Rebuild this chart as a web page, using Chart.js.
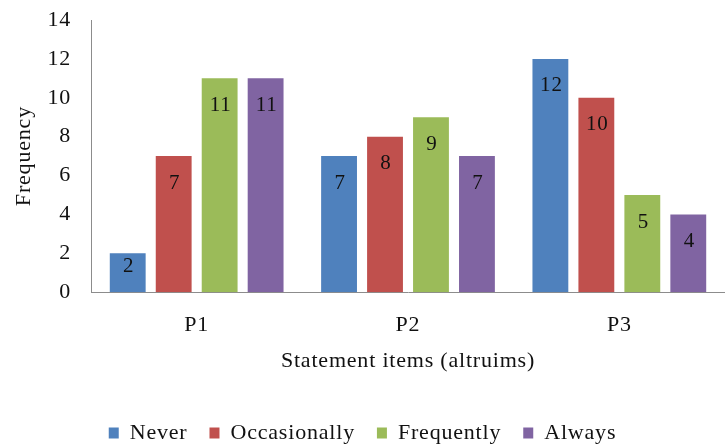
<!DOCTYPE html>
<html>
<head>
<meta charset="utf-8">
<script src="https://cdn.jsdelivr.net/npm/chart.js@4"></script>
<style>
  html, body { margin: 0; padding: 0; background: #fff; }
  #wrap { width: 725px; height: 444px; position: relative; }
</style>
</head>
<body>
<div id="wrap"><canvas id="c" width="725" height="444"></canvas></div>
<script>
// Responses per statement item (altruism)
const categories = ['P1', 'P2', 'P3'];
const seriesNames = ['Never', 'Occasionally', 'Frequently', 'Always'];
const never = [2, 7, 12];
const occasionally = [7, 8, 10];
const frequently = [11, 9, 5];
const always = [11, 7, 4];
const yTicks = [0, 2, 4, 6, 8, 10, 12, 14];

const colors = ['#4F81BD', '#C0504D', '#9BBB59', '#8064A2'];
const serif = '"Liberation Serif", "Times New Roman", serif';
const SPACING = '0.8px';

// Slightly wider tracking for all canvas text
const tracking = {
  id: 'tracking',
  beforeInit(chart) {
    chart.ctx.letterSpacing = SPACING;
    // pull the legend a little closer to the bottom edge
    const legend = chart.legend;
    if (legend) {
      const fit = legend.fit;
      legend.fit = function () { fit.call(this); this.height -= 10; };
    }
  },
  beforeUpdate(chart) { chart.ctx.letterSpacing = SPACING; },
  beforeDraw(chart) { chart.ctx.letterSpacing = SPACING; }
};

// Value labels drawn inside the top of each bar
const barLabels = {
  id: 'barLabels',
  afterDatasetsDraw(chart) {
    const ctx = chart.ctx;
    ctx.save();
    ctx.font = '21px ' + serif;
    ctx.fillStyle = '#111';
    ctx.textAlign = 'center';
    ctx.textBaseline = 'middle';
    chart.data.datasets.forEach((ds, i) => {
      chart.getDatasetMeta(i).data.forEach((bar, j) => {
        const y = Math.min(bar.y + 27, bar.base - 26);
        ctx.fillText(String(ds.data[j]), bar.x + 1, y);
      });
    });
    ctx.restore();
  }
};

const seriesData = [never, occasionally, frequently, always];

new Chart(document.getElementById('c'), {
  type: 'bar',
  data: {
    labels: categories,
    datasets: seriesNames.map((name, i) => ({
      label: name,
      data: seriesData[i],
      backgroundColor: colors[i],
      borderWidth: 0,
      categoryPercentage: 0.87,
      barPercentage: 0.78
    }))
  },
  options: {
    responsive: false,
    animation: false,
    layout: { padding: { top: 20, right: 0, left: 0, bottom: 0 } },
    scales: {
      x: {
        grid: { display: false, drawTicks: false },
        border: { display: true, color: '#8c8c8c', width: 1 },
        ticks: { color: '#111', font: { family: serif, size: 22 }, padding: 20 },
        title: {
          display: true,
          text: 'Statement items (altruims)',
          color: '#111',
          font: { family: serif, size: 22 },
          padding: { top: -11, bottom: 26 }
        }
      },
      y: {
        min: 0,
        max: 14,
        afterBuildTicks(scale) { scale.ticks = yTicks.map(v => ({ value: v })); },
        afterFit(scale) {
          scale.width = 91;
          scale.paddingTop = 0;
          scale.paddingBottom = 0;
        },
        grid: { display: false, drawTicks: false },
        border: { display: true, color: '#8c8c8c', width: 1 },
        ticks: { color: '#111', font: { family: serif, size: 22 }, padding: 20 },
        title: {
          display: true,
          text: 'Frequency',
          color: '#111',
          font: { family: serif, size: 22 },
          padding: { top: 11, bottom: 0 }
        }
      }
    },
    plugins: {
      legend: {
        position: 'bottom',
        labels: {
          color: '#111',
          font: { family: serif, size: 22 },
          boxWidth: 10,
          boxHeight: 11,
          padding: 22
        }
      },
      tooltip: { enabled: false }
    }
  },
  plugins: [tracking, barLabels]
});
</script>
</body>
</html>
